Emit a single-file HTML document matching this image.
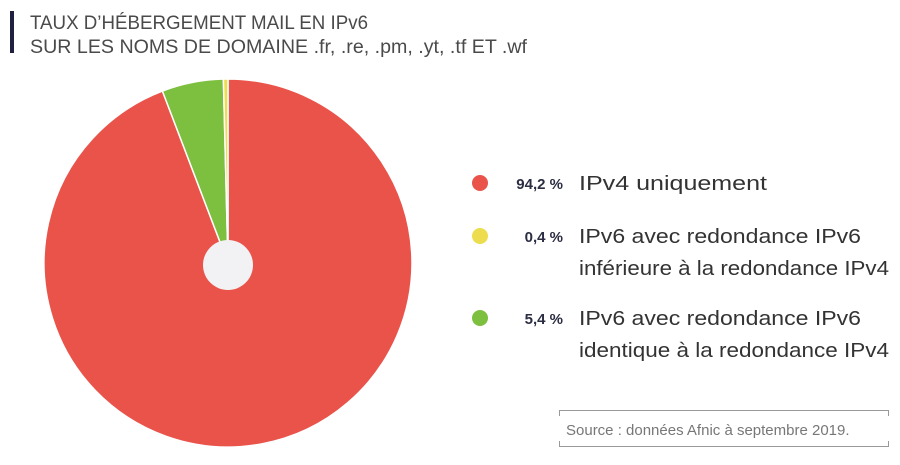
<!DOCTYPE html>
<html><head><meta charset="utf-8"><style>
body{margin:0;background:#fff;width:900px;height:460px;overflow:hidden;font-family:"Liberation Sans",sans-serif}
</style></head><body>
<svg width="900" height="460" viewBox="0 0 900 460">
<rect x="10" y="11" width="4" height="42" fill="#1f2041"/>
<text x="30" y="29" font-size="19" fill="#4a4a4a" textLength="338" lengthAdjust="spacingAndGlyphs">TAUX D’HÉBERGEMENT MAIL EN IPv6</text>
<text x="30" y="53" font-size="19" fill="#4a4a4a" textLength="497" lengthAdjust="spacingAndGlyphs">SUR LES NOMS DE DOMAINE .fr, .re, .pm, .yt, .tf  ET  .wf</text>
<g id="pie"></g>
<circle cx="228" cy="265" r="25" fill="#f2f2f4"/>
<g id="legend"></g>
<g fill="none" stroke="#999" stroke-width="1">
<path d="M559.5 416 V410.5 H888.5 V416"/>
<path d="M559.5 441 V446.5 H888.5 V441"/>
</g>
<text x="566" y="435" font-size="15" fill="#777">Source : données Afnic à septembre 2019.</text>
</svg>
<script>
const categories = ["IPv4 uniquement", "IPv6 avec redondance IPv6 inférieure à la redondance IPv4", "IPv6 avec redondance IPv6 identique à la redondance IPv4"];
const values = [94.2, 0.4, 5.4];
const labels = ["94,2 %", "0,4 %", "5,4 %"];
const colors = ["#e9534a", "#eedc4f", "#7dbf3f"];
const labelLines = [["IPv4 uniquement"], ["IPv6 avec redondance IPv6", "inférieure à la redondance IPv4"], ["IPv6 avec redondance IPv6", "identique à la redondance IPv4"]];
const sliceOrder = [0, 2, 1];
const NS = "http://www.w3.org/2000/svg";
const cx = 228, cy = 263, r = 184;
const total = values.reduce((a, b) => a + b, 0);
const pie = document.getElementById('pie');
let a = 0;
sliceOrder.forEach(i => {
  const a0 = a, a1 = a + values[i] / total * 2 * Math.PI;
  a = a1;
  const x0 = cx + r * Math.sin(a0), y0 = cy - r * Math.cos(a0);
  const x1 = cx + r * Math.sin(a1), y1 = cy - r * Math.cos(a1);
  const large = (a1 - a0) > Math.PI ? 1 : 0;
  const p = document.createElementNS(NS, 'path');
  p.setAttribute('d', `M${cx} ${cy} L${x0} ${y0} A${r} ${r} 0 ${large} 1 ${x1} ${y1} Z`);
  p.setAttribute('fill', colors[i]);
  p.setAttribute('stroke', '#fff');
  p.setAttribute('stroke-width', '1.5');
  
  
  pie.appendChild(p);
});
const legend = document.getElementById('legend');
const rowY = [183, 236, 318];
categories.forEach((c, i) => {
  const y = rowY[i];
  const d = document.createElementNS(NS, 'circle');
  d.setAttribute('cx', 480); d.setAttribute('cy', y); d.setAttribute('r', 8);
  d.setAttribute('fill', colors[i]);
  
  
  legend.appendChild(d);
  const t = document.createElementNS(NS, 'text');
  t.setAttribute('x', 563); t.setAttribute('y', y + 6);
  t.setAttribute('text-anchor', 'end'); t.setAttribute('font-size', '15');
  t.setAttribute('font-weight', 'bold'); t.setAttribute('fill', '#2b2d42');
  t.textContent = labels[i];
  
  
  legend.appendChild(t);
  labelLines[i].forEach((ln, k) => {
    const l = document.createElementNS(NS, 'text');
    l.setAttribute('x', 579); l.setAttribute('y', y + 7 + k * 32);
    l.setAttribute('font-size', '20'); l.setAttribute('fill', '#333');
    l.setAttribute('textLength', k === 0 && i === 0 ? 188 : (ln.length > 27 ? 310 : 282));
    l.setAttribute('lengthAdjust', 'spacingAndGlyphs');
    l.textContent = ln;
    
    
    legend.appendChild(l);
  });
});
</script>
</body></html>
